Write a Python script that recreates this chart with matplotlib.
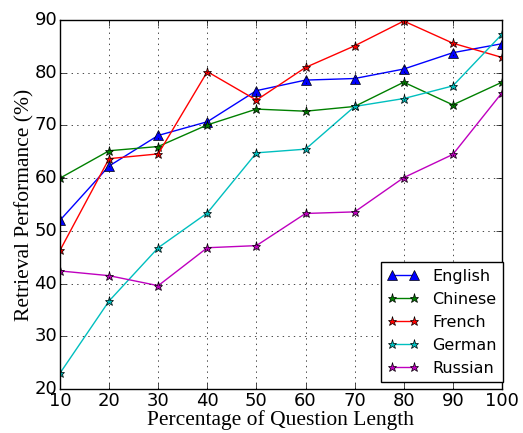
import matplotlib
matplotlib.use('Agg')
import matplotlib.pyplot as plt

plt.style.use('classic')

lengths = [10, 20, 30, 40, 50, 60, 70, 80, 90, 100]
english = [52.0, 62.3, 68.1, 70.7, 76.6, 78.6, 78.9, 80.7, 83.8, 85.5]
chinese = [60.0, 65.2, 66.0, 70.1, 73.1, 72.7, 73.6, 78.2, 73.9, 78.2]
french = [46.3, 63.7, 64.6, 80.2, 74.8, 81.0, 85.1, 89.8, 85.6, 82.9]
german = [23.0, 36.7, 46.8, 53.4, 64.8, 65.5, 73.6, 75.1, 77.5, 87.3]
russian = [42.4, 41.5, 39.6, 46.8, 47.2, 53.3, 53.6, 60.1, 64.5, 76.2]

fig = plt.figure(figsize=(5.23, 4.33), dpi=100, facecolor='white')
ax = fig.add_axes([0.1147, 0.1016, 0.8451, 0.8522])

ax.plot(lengths, english, 'b-^', markersize=7, label='English')
ax.plot(lengths, chinese, 'g-*', markersize=6.5, label='Chinese')
ax.plot(lengths, french, 'r-*', markersize=6.5, label='French')
ax.plot(lengths, german, 'c-*', markersize=6.5, label='German')
ax.plot(lengths, russian, 'm-*', markersize=6.5, label='Russian')

ax.set_xlim(10, 100)
ax.set_ylim(20, 90)
ax.set_xticks(lengths)
ax.grid(True)
ax.tick_params(labelsize=13, pad=2)

ax.set_xlabel('Percentage of Question Length', family='Liberation Serif', fontsize=15.5, labelpad=0)
ax.set_ylabel('Retrieval Performance (%)', family='Liberation Serif', fontsize=15.5, labelpad=0)

ax.legend(loc='lower right', bbox_to_anchor=(1.002, 0.019), borderaxespad=0,
          fontsize=11.5, numpoints=2)

fig.savefig('out.png', dpi=100, facecolor='white')
